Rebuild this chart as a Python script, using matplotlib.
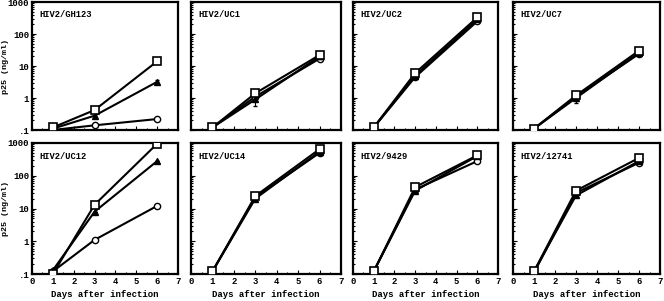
import matplotlib
matplotlib.use("Agg")
import matplotlib.pyplot as plt
from matplotlib.ticker import FixedLocator, FixedFormatter, LogLocator, NullFormatter, MultipleLocator

days = [1, 3, 6]
titles = ["HIV2/GH123", "HIV2/UC1", "HIV2/UC2", "HIV2/UC7",
          "HIV2/UC12", "HIV2/UC14", "HIV2/9429", "HIV2/12741"]

square = [[0.12, 0.42, 14], [0.12, 1.4, 22], [0.12, 6.0, 330], [0.11, 1.2, 30],
          [0.10, 13, 950], [0.12, 24, 650], [0.12, 45, 420], [0.12, 35, 350]]
triangle = [[0.11, 0.28, 3.2], [0.12, 0.9, 20], [0.12, 5.0, 290], [0.11, 1.0, 26],
            [0.13, 8, 280], [0.12, 20, 550], [0.12, 35, 400], [0.12, 25, 280]]
circle = [[0.10, 0.14, 0.22], [0.12, 1.1, 17], [0.12, 4.5, 250], [0.11, 1.1, 24],
          [0.12, 1.1, 12], [0.12, 22, 500], [0.12, 38, 280], [0.11, 30, 250]]
tri_err = [[0, 0.05, 0.5], [0, 0.35, 4], [0, 1.0, 30], [0, 0.3, 4],
           [0, 0, 0], [0, 3, 60], [0, 4, 40], [0, 3, 30]]
sq_err = [[0, 0.06, 0], [0, 0.2, 5], [0, 0.8, 40], [0, 0.2, 4],
          [0, 0, 0], [0, 3, 50], [0, 5, 40], [0, 4, 40]]

yticks = [0.1, 1, 10, 100, 1000]
ylabels = [".1", "1", "10", "100", "1000"]

W, H = 664, 301
fig = plt.figure(figsize=(W / 100, H / 100), dpi=100)
font = "Liberation Mono"

lefts = [32, 191, 353, 513]
widths = [146, 150, 145, 147]
rows = [(2, 130), (143, 274)]

for i in range(8):
    r, c = divmod(i, 4)
    top, bot = rows[r]
    ax = fig.add_axes([lefts[c] / W, (H - bot) / H, widths[c] / W, (bot - top) / H])
    ax.set_yscale("log")
    ax.set_ylim(0.1, 1000)
    ax.set_xlim(0, 7)
    ax.errorbar(days, circle[i], fmt="-o", color="black", mfc="white", mec="black",
                ms=4.5, lw=1.5, mew=1.0, zorder=3)
    ax.errorbar(days, triangle[i], yerr=tri_err[i], fmt="-^", color="black", mfc="black",
                ms=4.5, lw=1.5, capsize=1.5, elinewidth=0.8, zorder=4)
    ax.errorbar(days, square[i], yerr=sq_err[i], fmt="-s", color="black", mfc="white",
                mec="black", ms=5.5, lw=1.5, mew=1.2, capsize=1.5, elinewidth=0.8, zorder=5)
    ax.text(0.05, 0.9, titles[i], transform=ax.transAxes, fontsize=6.3,
            family=font, fontweight="bold", va="center", ha="left")
    ax.yaxis.set_major_locator(FixedLocator(yticks))
    ax.yaxis.set_minor_locator(LogLocator(base=10, subs=range(2, 10)))
    ax.yaxis.set_minor_formatter(NullFormatter())
    ax.xaxis.set_major_locator(MultipleLocator(1))
    ax.xaxis.set_minor_locator(MultipleLocator(0.5))
    ax.tick_params(which="both", direction="in", width=0.8)
    ax.tick_params(which="major", length=3, labelsize=6.5, pad=2)
    ax.tick_params(which="minor", length=1.5)
    for s in ax.spines.values():
        s.set_linewidth(1.6)
    if c == 0:
        ax.yaxis.set_major_formatter(FixedFormatter(ylabels))
        ax.set_ylabel("p25 (ng/ml)", fontsize=6.0, family=font, fontweight="bold")
        ax.yaxis.set_label_coords(-0.155, 0.5)
    else:
        ax.set_yticklabels([])
    if r == 1:
        ax.set_xlabel("Days after infection", fontsize=6.5, family=font,
                      fontweight="bold", labelpad=3)
    else:
        ax.set_xticklabels([])
    for lab in ax.get_xticklabels() + ax.get_yticklabels():
        lab.set_family(font)
        lab.set_fontweight("bold")

fig.savefig("out.png", dpi=100)
